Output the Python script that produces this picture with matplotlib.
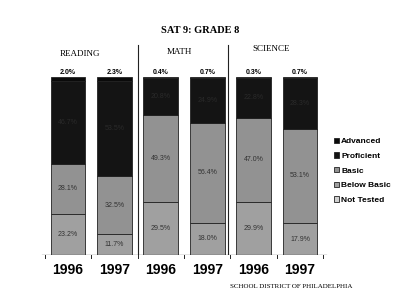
import numpy as np
import matplotlib
matplotlib.use("Agg")
from matplotlib import pyplot as plt

years = ["1996", "1997", "1996", "1997", "1996", "1997"]
subjects = ["READING", "MATH", "SCIENCE"]
levels = ["Advanced", "Proficient", "Basic", "Below Basic", "Not Tested"]

# percentages, bottom of the stack first
not_tested = [0, 0, 0, 0, 0, 0]
below_basic = [23.2, 11.7, 29.5, 18.0, 29.9, 17.9]
basic = [28.1, 32.5, 49.3, 56.4, 47.0, 53.1]
proficient = [46.7, 53.5, 20.8, 24.9, 22.8, 28.3]
advanced = [2.0, 2.3, 0.4, 0.7, 0.3, 0.7]

colors = {"Advanced": "#0a0a0a", "Proficient": "#141414", "Basic": "#929292",
          "Below Basic": "#a0a0a0", "Not Tested": "#d0d0d0"}
serif = ["Liberation Serif", "DejaVu Serif"]
narrow = ["Liberation Sans Narrow", "Liberation Sans", "DejaVu Sans"]

fig = plt.figure(figsize=(4, 3.05), dpi=100)
ax = fig.add_axes([0.1, 0.164, 0.725, 0.705])
x = np.arange(len(years))
w = 0.75

bottom = np.zeros(len(years))
for name, vals in [("Not Tested", not_tested), ("Below Basic", below_basic),
                   ("Basic", basic), ("Proficient", proficient), ("Advanced", advanced)]:
    vals = np.array(vals, dtype=float)
    ax.bar(x, vals, w, bottom=bottom, color=colors[name], edgecolor="#222222",
           linewidth=0.6, label=name)
    if name in ("Below Basic", "Basic"):
        for xi, b, v in zip(x, bottom, vals):
            ax.text(xi, b + v / 2, f"{v:.1f}%", ha="center", va="center",
                    fontsize=5, color="#333333", family=narrow)
    if name == "Proficient":
        for xi, b, v in zip(x, bottom, vals):
            ax.text(xi, b + v / 2, f"{v:.1f}%", ha="center", va="center",
                    fontsize=5, color="#2a2a2a", family=narrow)
    bottom += vals

for xi, v, b in zip(x, advanced, bottom):
    ax.text(xi, b + 0.5, f"{v:.1f}%", ha="center", va="bottom", fontsize=5,
            fontweight="bold", family=narrow)

# group dividers
for xd in [1.5, 3.45]:
    ax.plot([xd, xd], [0, 118], color="#222222", lw=0.8)

ax.plot([-0.55, 5.55], [0, 0], color="#222222", lw=0.9)
for xt in np.arange(-0.5, 6, 1.0):
    ax.plot([xt, xt], [0, -1.5], color="#222222", lw=0.7, clip_on=False)

ax.set_xlim(-0.603, 5.646)
ax.set_ylim(0, 120.8)
ax.set_xticks(x)
ax.set_xticklabels(years, fontsize=10, fontweight="bold", family=narrow)
ax.tick_params(axis="x", length=0, pad=6)
ax.set_yticks([])
for s in ax.spines.values():
    s.set_visible(False)

for gx, gy, name in [(0.25, 113, "READING"), (2.4, 114, "MATH"), (4.37, 115.5, "SCIENCE")]:
    ax.text(gx, gy, name, ha="center", va="center", fontsize=6.5, family=serif)

fig.text(0.5, 0.9, "SAT 9: GRADE 8", ha="center", va="center", fontsize=7.5,
         fontweight="bold", family=serif)
fig.text(0.575, 0.06, "SCHOOL DISTRICT OF PHILADELPHIA", ha="left", va="center",
         fontsize=5, family=serif)

handles, labels = ax.get_legend_handles_labels()
order = [labels.index(l) for l in levels]
fig.legend([handles[i] for i in order], levels, loc="center left",
           bbox_to_anchor=(0.815, 0.44), frameon=False,
           prop={"family": narrow, "weight": "bold", "size": 6},
           handlelength=0.6, handleheight=0.6, handletextpad=0.3, labelspacing=0.85)

fig.savefig("out.png", dpi=100)
